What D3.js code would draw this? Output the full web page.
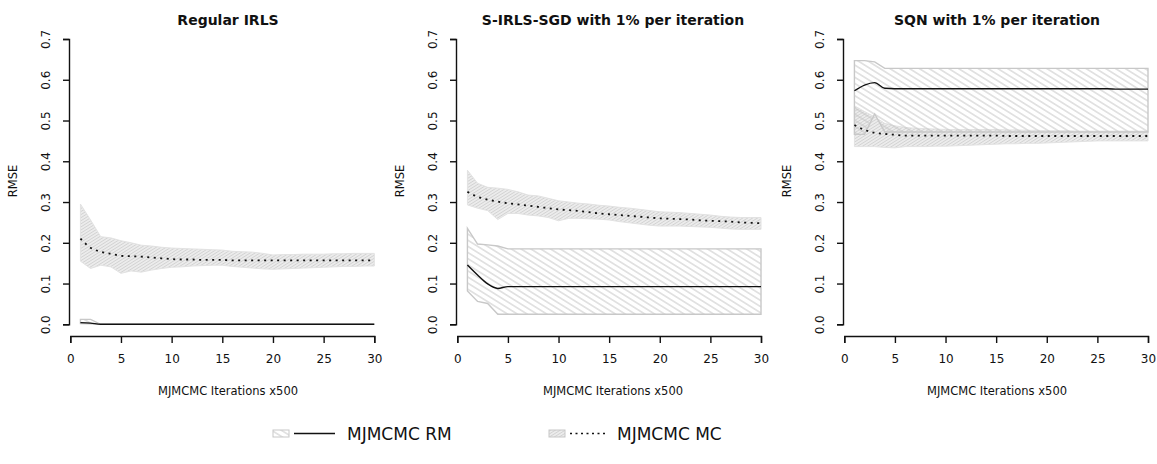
<!DOCTYPE html>
<html>
<head>
<meta charset="utf-8">
<script src="https://cdn.jsdelivr.net/npm/d3@7"></script>
<style>
  body { margin: 0; background: #fff; }
  svg { display: block; font-family: "DejaVu Sans", sans-serif; }
</style>
</head>
<body>
<svg id="chart" width="1157" height="464"></svg>
<script>
// Iteration index (x500 MJMCMC iterations)
const iterations = d3.range(1, 31);
const xTicks = [0, 5, 10, 15, 20, 25, 30];
const yTicks = [0, 0.1, 0.2, 0.3, 0.4, 0.5, 0.6, 0.7];

const panelTitles = ["Regular IRLS", "S-IRLS-SGD with 1% per iteration", "SQN with 1% per iteration"];
const seriesNames = ["MJMCMC RM", "MJMCMC MC"];

// Regular IRLS
const irlsRM    = [0.004,0.003,0,0,0,0,0,0,0,0,0,0,0,0,0,0,0,0,0,0,0,0,0,0,0,0,0,0,0,0];
const irlsRMLo  = [0.002,0.001,0,0,0,0,0,0,0,0,0,0,0,0,0,0,0,0,0,0,0,0,0,0,0,0,0,0,0,0];
const irlsRMHi  = [0.012,0.012,0,0,0,0,0,0,0,0,0,0,0,0,0,0,0,0,0,0,0,0,0,0,0,0,0,0,0,0];
const irlsMC    = [0.210,0.188,0.178,0.173,0.168,0.167,0.166,0.164,0.162,0.160,0.159,0.159,0.158,0.158,0.158,0.157,0.157,0.157,0.157,0.157,0.157,0.157,0.157,0.157,0.157,0.157,0.157,0.157,0.157,0.157];
const irlsMCLo  = [0.155,0.137,0.145,0.141,0.125,0.131,0.128,0.133,0.137,0.140,0.141,0.143,0.144,0.145,0.145,0.142,0.140,0.138,0.136,0.135,0.136,0.137,0.138,0.139,0.140,0.141,0.142,0.142,0.143,0.143];
const irlsMCHi  = [0.295,0.256,0.215,0.212,0.205,0.200,0.194,0.192,0.189,0.187,0.186,0.185,0.184,0.183,0.182,0.179,0.178,0.177,0.174,0.170,0.171,0.171,0.172,0.172,0.172,0.173,0.173,0.174,0.174,0.174];

// S-IRLS-SGD, 1% per iteration
const sgdRM     = [0.1455,0.121,0.099,0.088,0.0925,0.0925,0.0925,0.0925,0.0925,0.0925,0.0925,0.0925,0.0925,0.0925,0.0925,0.0925,0.0925,0.0925,0.0925,0.0925,0.0925,0.0925,0.0925,0.0925,0.0925,0.0925,0.0925,0.0925,0.0925,0.0925];
const sgdRMLo   = [0.082,0.056,0.051,0.0245,0.0245,0.0245,0.0245,0.0245,0.0245,0.0245,0.0245,0.0245,0.0245,0.0245,0.0245,0.0245,0.0245,0.0245,0.0245,0.0245,0.0245,0.0245,0.0245,0.0245,0.0245,0.0245,0.0245,0.0245,0.0245,0.0245];
const sgdRMHi   = [0.2355,0.197,0.195,0.192,0.185,0.185,0.185,0.185,0.185,0.185,0.185,0.185,0.185,0.185,0.185,0.185,0.185,0.185,0.185,0.185,0.185,0.185,0.185,0.185,0.185,0.185,0.185,0.185,0.185,0.185];
const sgdMC     = [0.325,0.313,0.306,0.301,0.297,0.294,0.291,0.288,0.285,0.282,0.280,0.278,0.275,0.272,0.270,0.268,0.266,0.264,0.262,0.260,0.259,0.258,0.257,0.255,0.254,0.253,0.252,0.250,0.249,0.248];
const sgdMCLo   = [0.293,0.285,0.279,0.257,0.272,0.272,0.268,0.266,0.262,0.254,0.260,0.260,0.259,0.258,0.256,0.252,0.249,0.246,0.243,0.241,0.241,0.241,0.240,0.239,0.238,0.236,0.234,0.233,0.233,0.233];
const sgdMCHi   = [0.378,0.346,0.336,0.334,0.331,0.325,0.317,0.315,0.309,0.303,0.300,0.297,0.295,0.292,0.290,0.287,0.285,0.282,0.279,0.276,0.275,0.274,0.272,0.270,0.268,0.265,0.263,0.262,0.262,0.262];

// SQN, 1% per iteration
const sqnRM     = [0.573,0.587,0.593,0.579,0.578,0.578,0.578,0.578,0.578,0.578,0.578,0.578,0.578,0.578,0.578,0.578,0.578,0.578,0.578,0.578,0.578,0.578,0.578,0.578,0.578,0.578,0.577,0.577,0.577,0.577];
const sqnRMLo   = [0.466,0.466,0.516,0.472,0.472,0.472,0.472,0.472,0.472,0.472,0.472,0.472,0.472,0.472,0.472,0.472,0.472,0.472,0.472,0.472,0.472,0.472,0.472,0.472,0.472,0.472,0.472,0.472,0.472,0.472];
const sqnRMHi   = [0.647,0.647,0.644,0.628,0.628,0.628,0.628,0.628,0.628,0.628,0.628,0.628,0.628,0.628,0.628,0.628,0.628,0.628,0.628,0.628,0.628,0.628,0.628,0.628,0.628,0.628,0.628,0.628,0.628,0.628];
const sqnMC     = [0.489,0.477,0.470,0.467,0.465,0.463,0.463,0.463,0.463,0.463,0.463,0.463,0.463,0.463,0.463,0.462,0.462,0.462,0.462,0.462,0.462,0.462,0.462,0.462,0.462,0.462,0.462,0.462,0.462,0.462];
const sqnMCLo   = [0.436,0.436,0.436,0.434,0.433,0.436,0.436,0.436,0.437,0.437,0.438,0.439,0.440,0.441,0.442,0.443,0.443,0.444,0.444,0.445,0.446,0.447,0.448,0.449,0.450,0.450,0.450,0.450,0.450,0.450];
const sqnMCHi   = [0.536,0.522,0.509,0.493,0.487,0.483,0.481,0.480,0.479,0.478,0.478,0.478,0.478,0.478,0.478,0.477,0.477,0.476,0.476,0.475,0.475,0.475,0.474,0.474,0.474,0.474,0.474,0.474,0.474,0.474];

const panels = [
  { title: panelTitles[0], rm: irlsRM, rmLo: irlsRMLo, rmHi: irlsRMHi, mc: irlsMC, mcLo: irlsMCLo, mcHi: irlsMCHi, x0: 70.3, x1: 374.3, titleX: 228 },
  { title: panelTitles[1], rm: sgdRM,  rmLo: sgdRMLo,  rmHi: sgdRMHi,  mc: sgdMC,  mcLo: sgdMCLo,  mcHi: sgdMCHi,  x0: 457.3, x1: 761,  titleX: 613 },
  { title: panelTitles[2], rm: sqnRM,  rmLo: sqnRMLo,  rmHi: sqnRMHi,  mc: sqnMC,  mcLo: sqnMCLo,  mcHi: sqnMCHi,  x0: 844.3, x1: 1148, titleX: 997 }
];

const svg = d3.select("#chart");
const defs = svg.append("defs");

// Hatch fills: sparse "\" for RM, dense "/" on grey for MC
function hatch(id, spacing, angle, bg, stroke) {
  const p = defs.append("pattern")
    .attr("id", id).attr("patternUnits", "userSpaceOnUse")
    .attr("width", 10).attr("height", spacing)
    .attr("patternTransform", `rotate(${angle})`);
  if (bg) p.append("rect").attr("width", 10).attr("height", spacing).attr("fill", bg);
  p.append("line").attr("x1", 0).attr("x2", 10).attr("y1", spacing / 2).attr("y2", spacing / 2)
    .attr("stroke", stroke).attr("stroke-width", 0.9);
}
hatch("hatchRM", 5.2, 32, null, "#c4c4c4");
hatch("hatchMC", 2.6, -32, "#ececec", "#d2d2d2");

const yScale = d3.scaleLinear().domain([0, 0.7]).range([324.3, 39]);
const bandColor = "#c8c8c8";

panels.forEach(pn => {
  const g = svg.append("g");
  const xScale = d3.scaleLinear().domain([0, 30]).range([pn.x0, pn.x1]);

  const area = (lo, hi) => d3.area()
    .x((d, i) => xScale(iterations[i]))
    .y0((d, i) => yScale(lo[i]))
    .y1((d, i) => yScale(hi[i]))(iterations);
  const line = vals => d3.line()
    .x((d, i) => xScale(iterations[i]))
    .y((d, i) => yScale(vals[i]))
    .curve(d3.curveMonotoneX)(iterations);

  // Bands
  g.append("path").attr("d", area(pn.mcLo, pn.mcHi))
    .attr("fill", "url(#hatchMC)").attr("stroke", "#e2e2e2").attr("stroke-width", 1);
  g.append("path").attr("d", area(pn.rmLo, pn.rmHi))
    .attr("fill", "url(#hatchRM)").attr("stroke", bandColor).attr("stroke-width", 1.4);

  // Mean curves
  g.append("path").attr("d", line(pn.mc)).attr("fill", "none")
    .attr("stroke", "#111").attr("stroke-width", 1.8).attr("stroke-dasharray", "2,4.5");
  g.append("path").attr("d", line(pn.rm)).attr("fill", "none")
    .attr("stroke", "#111").attr("stroke-width", 1.4);

  // Y axis
  const yAxis = g.append("g").attr("transform", `translate(${pn.x0 - 1.3},0)`)
    .call(d3.axisLeft(yScale).tickValues(yTicks).tickFormat(d3.format(".1f"))
      .tickSizeOuter(0).tickSize(6).tickPadding(0));
  yAxis.select(".domain").attr("stroke", "#111").attr("stroke-width", 1.4);
  yAxis.selectAll(".tick line").attr("stroke", "#111").attr("stroke-width", 1.4);
  yAxis.selectAll(".tick text")
    .attr("transform", "translate(-23,0) rotate(-90)")
    .attr("x", 0).attr("dy", "0.35em")
    .attr("text-anchor", "middle")
    .attr("font-size", 12).attr("font-family", "DejaVu Sans").attr("fill", "#111");

  // X axis
  const xAxis = g.append("g").attr("transform", "translate(0,336)")
    .call(d3.axisBottom(xScale).tickValues(xTicks).tickFormat(d3.format("d"))
      .tickSizeOuter(0).tickSize(7).tickPadding(11));
  xAxis.select(".domain").attr("stroke", "#111").attr("stroke-width", 1.4);
  xAxis.selectAll(".tick line").attr("stroke", "#111").attr("stroke-width", 1.4);
  xAxis.selectAll(".tick text").attr("font-size", 12).attr("font-family", "DejaVu Sans").attr("fill", "#111");

  // Labels
  g.append("text").attr("x", pn.titleX).attr("y", 25).attr("text-anchor", "middle")
    .attr("font-size", 14).attr("font-weight", "bold").attr("fill", "#111").text(pn.title);
  g.append("text").attr("x", pn.titleX).attr("y", 395).attr("text-anchor", "middle")
    .attr("font-size", 11.5).attr("fill", "#111").text("MJMCMC Iterations x500");
  g.append("text").attr("transform", `translate(${pn.x0 - 53},181) rotate(-90)`)
    .attr("text-anchor", "middle").attr("font-size", 11.5).attr("fill", "#111").text("RMSE");
});

// Legend
const legend = svg.append("g");
const legendItems = [
  { name: seriesNames[0], fill: "url(#hatchRM)", dash: null, sx: 273, lx0: 294, lx1: 335, tx: 347 },
  { name: seriesNames[1], fill: "url(#hatchMC)", dash: "2,3.5", sx: 549, lx0: 570, lx1: 608, tx: 617 }
];
legendItems.forEach(it => {
  legend.append("rect").attr("x", it.sx).attr("y", 430).attr("width", 16).attr("height", 7)
    .attr("fill", it.fill).attr("stroke", bandColor).attr("stroke-width", 1);
  legend.append("line").attr("x1", it.lx0).attr("x2", it.lx1).attr("y1", 433.5).attr("y2", 433.5)
    .attr("stroke", "#111").attr("stroke-width", it.dash ? 1.6 : 1.4)
    .attr("stroke-dasharray", it.dash);
  legend.append("text").attr("x", it.tx).attr("y", 440).attr("font-size", 17)
    .attr("fill", "#111").text(it.name);
});
</script>
</body>
</html>
